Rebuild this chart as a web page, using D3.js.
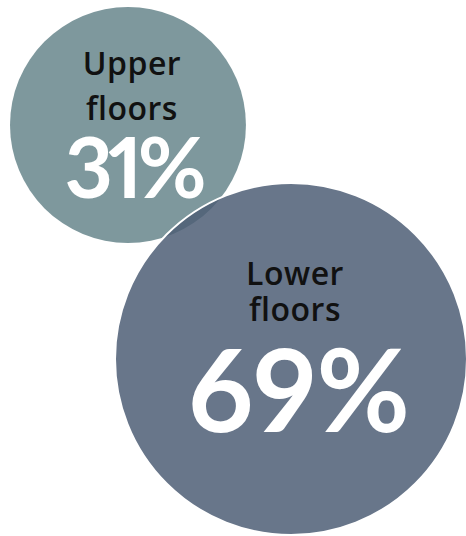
<!DOCTYPE html>
<html>
<head>
<meta charset="utf-8">
<script src="https://cdn.jsdelivr.net/npm/d3@7"></script>
<style>
  html, body { margin: 0; padding: 0; background: #fff; }
  svg { display: block; }
  .value { font-variant-numeric: proportional-nums; font-feature-settings: "pnum" 1; }
</style>
</head>
<body>
<script>
const labels = [['Upper', 'floors'], ['Lower', 'floors']];
const shares = [31, 69];
const colors = ['#7e989d', '#4e5e76'];

const width = 466;
const height = 536;

const rScale = d3.scaleSqrt()
  .domain([0, d3.max(shares)])
  .range([0, 176]);

const r0 = rScale(shares[0]);
const r1 = rScale(shares[1]);

// upper circle sits top-left, lower one hugs the bottom-right corner
const centers = [
  [10 + r0, 7 + r0],
  [width - r1 + 1, height - r1 - 1]
];

// baselines relative to circle centre: two label lines, then the number
const textOffsets = [
  { lines: [-50, -5], value: 73, size: 84, spacing: -5, dx: 5 },
  { lines: [-74, -38], value: 73, size: 114, spacing: 0, dx: 8 }
];

const data = shares.map((v, i) => ({
  label: labels[i],
  value: v,
  color: colors[i],
  r: rScale(v),
  cx: centers[i][0],
  cy: centers[i][1],
  t: textOffsets[i]
}));

const svg = d3.select('body')
  .append('svg')
  .attr('width', width)
  .attr('height', height);

const bubbles = svg.selectAll('g.bubble')
  .data(data)
  .join('g')
  .attr('class', 'bubble');

bubbles.append('circle')
  .attr('cx', d => d.cx)
  .attr('cy', d => d.cy)
  .attr('r', d => d.r)
  .attr('fill', d => d.color)
  .attr('fill-opacity', (d, i) => i === 0 ? 1 : 0.85)
  .attr('stroke', (d, i) => i === 0 ? 'none' : '#fff')
  .attr('stroke-width', 2);

bubbles.each(function (d) {
  const g = d3.select(this);
  d.label.forEach((line, j) => {
    g.append('text')
      .attr('x', d.cx + 4)
      .attr('y', d.cy + d.t.lines[j])
      .attr('text-anchor', 'middle')
      .attr('font-family', '"Open Sans", sans-serif')
      .attr('font-weight', 600)
      .attr('font-size', 32)
      .attr('letter-spacing', 0.5)
      .attr('fill', '#111')
      .text(line);
  });
  g.append('text')
    .attr('class', 'value')
    .attr('x', d.cx + d.t.dx)
    .attr('y', d.cy + d.t.value)
    .attr('text-anchor', 'middle')
    .attr('font-family', 'Lato, sans-serif')
    .attr('font-weight', 700)
    .attr('font-size', d.t.size)
    .attr('letter-spacing', d.t.spacing)
    .attr('fill', '#fff')
    .text(d.value + '%');
});
</script>
</body>
</html>
